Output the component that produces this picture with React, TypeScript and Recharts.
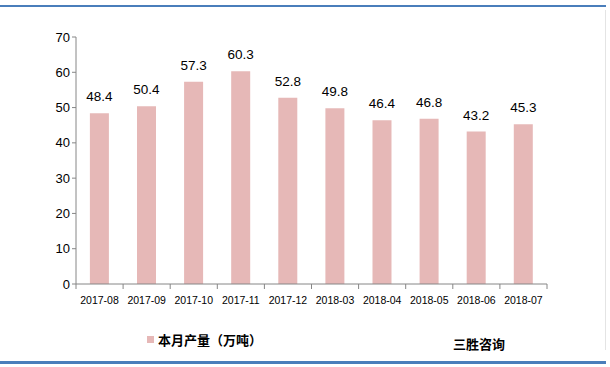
import { Bar, BarChart, LabelList, Legend, XAxis, YAxis } from "recharts";

const months = ["2017-08", "2017-09", "2017-10", "2017-11", "2017-12", "2018-03", "2018-04", "2018-05", "2018-06", "2018-07"];
const output = [48.4, 50.4, 57.3, 60.3, 52.8, 49.8, 46.4, 46.8, 43.2, 45.3];
const yTicks = [0, 10, 20, 30, 40, 50, 60, 70];
const seriesName = "本月产量（万吨）";
const brand = "三胜咨询";

const data = months.map((m, i) => ({ month: m, value: output[i] }));

const font = "'Liberation Sans', 'Noto Sans CJK SC', sans-serif";
const axisColor = "#868686";

function LegendBox({ payload }: any) {
  const item = payload && payload[0];
  if (!item) return null;
  return (
    <div style={{ display: "flex", alignItems: "center", fontFamily: font }}>
      <span style={{ width: 7, height: 7, background: item.color, display: "inline-block", marginRight: 4 }} />
      <span style={{ fontSize: 13, fontWeight: "bold", color: "#000" }}>{item.value}</span>
    </div>
  );
}

// category label plus tick marks on the band edges
function MonthTick(props: any) {
  const { x, y, payload, index } = props;
  const half = payload.offset || 0;
  const last = index === months.length - 1;
  return (
    <g>
      <line x1={x - half} x2={x - half} y1={y} y2={y + 5} stroke={axisColor} />
      {last && <line x1={x + half} x2={x + half} y1={y} y2={y + 5} stroke={axisColor} />}
      <text x={x} y={y + 20} textAnchor="middle" fontSize={10.5} fontFamily={font} fill="#000">
        {payload.value}
      </text>
    </g>
  );
}

export default function App() {
  return (
    <div style={{ position: "absolute", left: 0, top: 0, width: 610, height: 367, background: "#fff" }}>
      <div style={{ position: "absolute", left: 0, top: 5, width: 606, height: 2, background: "#4a7ebb" }} />
      <div style={{ position: "absolute", left: 0, top: 361, width: 606, height: 3, background: "#4a7ebb" }} />
      <div style={{ position: "absolute", left: 605, top: 10, width: 1, height: 340, background: "#e4e4e4" }} />
      <BarChart
        width={610}
        height={367}
        data={data}
        barCategoryGap="29.5%"
        margin={{ top: 37, right: 63, bottom: 53, left: 36 }}
        style={{ position: "absolute", left: 0, top: 0 }}
      >
        <XAxis
          dataKey="month"
          axisLine={{ stroke: axisColor }}
          tickLine={false}
          tickSize={0}
          tickMargin={0}
          interval={0}
          height={30}
          tick={<MonthTick />}
        />
        <YAxis
          domain={[0, 70]}
          ticks={yTicks}
          width={40}
          axisLine={{ stroke: axisColor }}
          tickLine={{ stroke: axisColor }}
          tickSize={4}
          tick={{ fontSize: 13, fill: "#000", fontFamily: font }}
        />
        <Legend
          verticalAlign="middle"
          align="center"
          wrapperStyle={{ position: "absolute", left: 147, top: 330, width: 200 }}
          content={<LegendBox />}
        />
        <Bar dataKey="value" name={seriesName} fill="#e6b8b7" isAnimationActive={false}>
          <LabelList dataKey="value" position="top" offset={12} style={{ fontSize: 13.5, fill: "#000", fontFamily: font }} />
        </Bar>
      </BarChart>
      <div
        style={{
          position: "absolute",
          left: 453,
          top: 334,
          fontSize: 13,
          fontWeight: "bold",
          fontFamily: "'Noto Sans CJK SC', sans-serif",
          color: "#000",
        }}
      >
        {brand}
      </div>
    </div>
  );
}
